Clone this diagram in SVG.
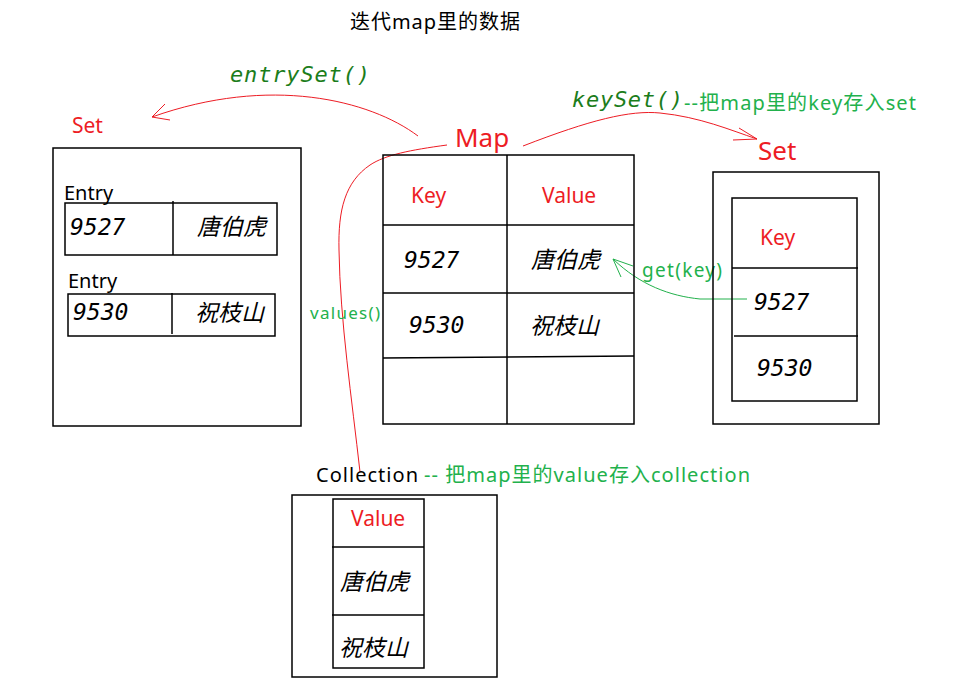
<svg xmlns="http://www.w3.org/2000/svg" width="970" height="694" viewBox="0 0 970 694">
<style>
.box{fill:none;stroke:#000;stroke-width:1.5}
.ln{stroke:#000;stroke-width:1.5}
.sans{font-family:"Noto Sans","Noto Sans CJK SC",sans-serif}
.red{fill:#ed1c24}
.blk{fill:#000}
.grn{fill:#22b14c}
.dg{fill:#1b7d1b;font-family:"DejaVu Sans Mono","Liberation Mono",monospace;font-style:italic;font-size:22px}
.num{font-family:"DejaVu Sans Mono","Liberation Mono",monospace;font-style:italic;font-size:23px;fill:#000}
.cn{font-family:"Noto Sans CJK SC",sans-serif;font-style:italic;font-size:23px;fill:#000}
.rc{fill:none;stroke:#ed1c24;stroke-width:1}
.gc{fill:none;stroke:#22b14c;stroke-width:1}
</style>
<rect width="970" height="694" fill="#fff"/>
<text x="350" y="29" class="sans blk" font-size="20" textLength="170">迭代map里的数据</text>

<g id="connectors">
  <path class="rc" d="M418,136 C370,100 270,75 152,117"/>
  <path class="rc" d="M152,117 L165,104 M152,117 L170,120"/>
  <path class="rc" d="M523,146 C590,120 630,110 660,113 C700,117 730,130 757,139"/>
  <path class="rc" d="M757,139 L739,128 M757,139 L733,140"/>
  <path class="rc" d="M447,145 C410,150 385,155 370,165 C345,182 338,210 339,250 C340,320 352,400 360,472"/>
  <path class="gc" d="M747,299 L700,299 C670,296 640,285 613,259"/>
  <path class="gc" d="M613,259 L621,277 M613,259 L633,266"/>
</g>

<g id="labels">
  <text x="230" y="82" class="dg" textLength="140">entrySet()</text>
  <text x="572" y="107" class="dg" textLength="111">keySet()</text>
  <text x="684" y="110" class="sans grn" font-size="20" textLength="232">--把map里的key存入set</text>
  <text x="310" y="319" class="sans grn" font-size="17" textLength="70">values()</text>
  <text x="642" y="277" class="sans grn" font-size="19" textLength="80">get(key)</text>
  <text x="455" y="147" class="sans red" font-size="26">Map</text>
  <text x="72" y="133" class="sans red" font-size="21">Set</text>
  <text x="758" y="160" class="sans red" font-size="26">Set</text>
</g>

<g id="entrySetBox">
  <rect class="box" x="53" y="148" width="248" height="278"/>
  <text x="64" y="200" class="sans blk" font-size="20">Entry</text>
  <rect class="box" x="65" y="203" width="212" height="52"/>
  <line class="ln" x1="173" y1="201" x2="173" y2="255"/>
  <text x="70" y="235" class="num">9527</text>
  <text x="197" y="235" class="cn">唐伯虎</text>
  <text x="68" y="288" class="sans blk" font-size="20">Entry</text>
  <rect class="box" x="68" y="294" width="207" height="42"/>
  <line class="ln" x1="172" y1="293" x2="172" y2="334"/>
  <text x="73" y="320" class="num">9530</text>
  <text x="195" y="321" class="cn">祝枝山</text>
</g>

<g id="map">
  <rect class="box" x="383" y="155" width="251" height="269"/>
  <line class="ln" x1="507" y1="155" x2="507" y2="424"/>
  <line class="ln" x1="383" y1="225" x2="634" y2="225"/>
  <line class="ln" x1="383" y1="293" x2="634" y2="293"/>
  <line class="ln" x1="383" y1="358" x2="634" y2="356"/>
  <text x="411" y="203" class="sans red" font-size="21">Key</text>
  <text x="542" y="203" class="sans red" font-size="21">Value</text>
  <text x="404" y="268" class="num">9527</text>
  <text x="531" y="268" class="cn">唐伯虎</text>
  <text x="409" y="333" class="num">9530</text>
  <text x="530" y="334" class="cn">祝枝山</text>
</g>

<g id="keySetBox">
  <rect class="box" x="713" y="172" width="166" height="252"/>
  <rect class="box" x="732" y="198" width="125" height="203"/>
  <line class="ln" x1="732" y1="268" x2="858" y2="268"/>
  <line class="ln" x1="734" y1="336" x2="858" y2="336"/>
  <text x="760" y="245" class="sans red" font-size="21">Key</text>
  <text x="754" y="310" class="num">9527</text>
  <text x="757" y="376" class="num">9530</text>
</g>

<g id="collection">
  <text x="316" y="482" class="sans blk" font-size="20" textLength="102">Collection</text>
  <text x="424" y="482" class="sans grn" font-size="20" textLength="326">-- 把map里的value存入collection</text>
  <rect class="box" x="292" y="495" width="205" height="182"/>
  <rect class="box" x="333" y="499" width="91" height="169"/>
  <line class="ln" x1="332" y1="547" x2="424" y2="547"/>
  <line class="ln" x1="332" y1="615" x2="424" y2="615"/>
  <text x="351" y="526" class="sans red" font-size="21">Value</text>
  <text x="340" y="590" class="cn">唐伯虎</text>
  <text x="339" y="656" class="cn">祝枝山</text>
</g>
</svg>
